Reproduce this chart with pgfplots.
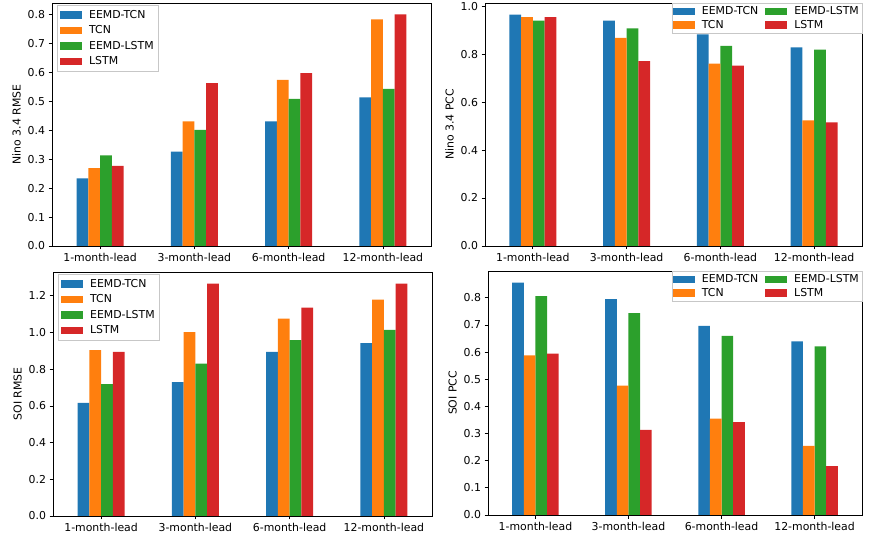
\documentclass[border=0pt]{standalone}
\usepackage{fontspec}
\setmainfont{DejaVu Sans}
\usepackage{pgfplots}
\pgfplotsset{compat=1.18}

\definecolor{cblue}{HTML}{1F77B4}
\definecolor{corange}{HTML}{FF7F0E}
\definecolor{cgreen}{HTML}{2CA02C}
\definecolor{cred}{HTML}{D62728}
\newcommand{\pfont}{\fontsize{10.9bp}{13bp}\selectfont}

\pgfplotsset{
  panel/.style={
    scale only axis,
    axis line style={line width=0.8bp, black},
    ybar, bar width=0.125,
    xmin=-0.51, xmax=3.51,
    ymin=0,
    xtick={0,1,2,3},
    xticklabels={1-month-lead,3-month-lead,6-month-lead,12-month-lead},
    xtick pos=bottom, ytick pos=left,
    tick align=outside,
    major tick length=3.5bp,
    every tick/.style={black, line width=0.8bp},
    tick label style={font=\pfont},
    label style={font=\pfont},
    /pgf/number format/assume math mode=true,
    yticklabel style={/pgf/number format/.cd, fixed, fixed zerofill, precision=1},
    legend cell align=left,
    legend image code/.code={\fill[##1] (0bp,-3.6bp) rectangle (22bp,3.6bp);
      \path (27bp,0bp);},
    legend style={font=\pfont, draw=black!22, fill=white,
      inner xsep=3bp, inner ysep=1.5bp, row sep=0bp, column sep=0bp,
      nodes={inner sep=2bp}},
  },
  onecol/.style={legend style={at={(0.013,0.99)}, anchor=north west,
      row sep=2bp, inner ysep=2.5bp}},
  twocol/.style={legend columns=2,
      legend style={at={(1,1)}, anchor=north east, inner xsep=1bp,
      /tikz/every even column/.append style={column sep=5bp}}},
  sa/.style={fill=cblue, draw=none, bar shift=-0.1875},
  sb/.style={fill=corange, draw=none, bar shift=-0.0625},
  sc/.style={fill=cgreen, draw=none, bar shift=0.0625},
  sd/.style={fill=cred, draw=none, bar shift=0.1875},
}

\begin{document}
\begin{tikzpicture}
\useasboundingbox (0,0) rectangle (875bp,541bp);

% Nino 3.4 RMSE
\begin{axis}[panel, onecol, at={(52bp,295bp)}, anchor=south west,
    width=379bp, height=243bp,
    ymax=0.84, ytick={0,0.1,...,0.8},
    ylabel={Nino 3.4 RMSE}]
\addplot[sa] coordinates {(0,0.234) (1,0.326) (2,0.431) (3,0.514)};
\addplot[sb] coordinates {(0,0.269) (1,0.431) (2,0.574) (3,0.783)};
\addplot[sc] coordinates {(0,0.313) (1,0.401) (2,0.509) (3,0.543)};
\addplot[sd] coordinates {(0,0.277) (1,0.563) (2,0.598) (3,0.801)};
\legend{EEMD-TCN,TCN,EEMD-LSTM,LSTM}
\end{axis}

% Nino 3.4 PCC
\begin{axis}[panel, twocol, at={(485bp,295bp)}, anchor=south west,
    width=377bp, height=243bp,
    ymax=1.013, ytick={0,0.2,...,1.0},
    ylabel={Nino 3.4 PCC}]
\addplot[sa] coordinates {(0,0.965) (1,0.940) (2,0.882) (3,0.828)};
\addplot[sc] coordinates {(0,0.940) (1,0.907) (2,0.834) (3,0.819)};
\addplot[sb] coordinates {(0,0.954) (1,0.868) (2,0.760) (3,0.524)};
\addplot[sd] coordinates {(0,0.954) (1,0.771) (2,0.752) (3,0.515)};
\legend{EEMD-TCN,EEMD-LSTM,TCN,LSTM}
\end{axis}

% SOI RMSE
\begin{axis}[panel, onecol, at={(53bp,25bp)}, anchor=south west,
    width=379bp, height=244bp,
    ymax=1.33, ytick={0,0.2,...,1.2},
    ylabel={SOI RMSE}]
\addplot[sa] coordinates {(0,0.617) (1,0.730) (2,0.895) (3,0.942)};
\addplot[sb] coordinates {(0,0.904) (1,1.002) (2,1.076) (3,1.180)};
\addplot[sc] coordinates {(0,0.719) (1,0.831) (2,0.958) (3,1.015)};
\addplot[sd] coordinates {(0,0.895) (1,1.267) (2,1.136) (3,1.267)};
\legend{EEMD-TCN,TCN,EEMD-LSTM,LSTM}
\end{axis}

% SOI PCC
\begin{axis}[panel, twocol, at={(488bp,26bp)}, anchor=south west,
    width=374bp, height=244bp,
    ymax=0.899, ytick={0,0.1,...,0.8},
    ylabel={SOI PCC}]
\addplot[sa] coordinates {(0,0.856) (1,0.795) (2,0.697) (3,0.640)};
\addplot[sc] coordinates {(0,0.806) (1,0.744) (2,0.660) (3,0.621)};
\addplot[sb] coordinates {(0,0.588) (1,0.477) (2,0.355) (3,0.255)};
\addplot[sd] coordinates {(0,0.595) (1,0.314) (2,0.342) (3,0.180)};
\legend{EEMD-TCN,EEMD-LSTM,TCN,LSTM}
\end{axis}
\end{tikzpicture}
\end{document}
